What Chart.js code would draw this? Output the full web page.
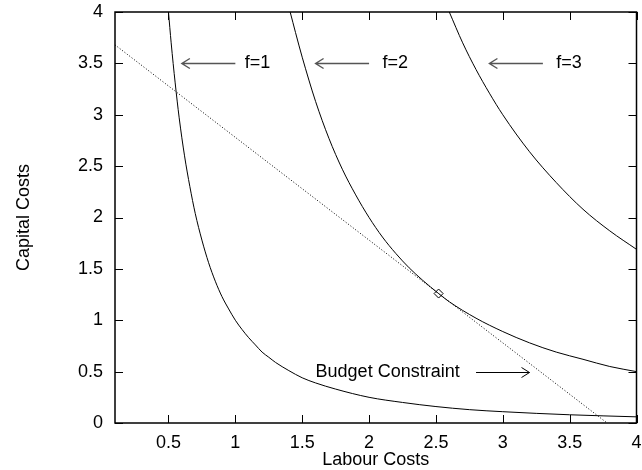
<!DOCTYPE html>
<html>
<head>
<meta charset="utf-8">
<script src="https://cdn.jsdelivr.net/npm/chart.js@4.4.1/dist/chart.umd.min.js"></script>
<style>
  body { margin: 0; background: #fff; }
  #wrap { width: 642px; height: 470px; }
</style>
</head>
<body>
<div id="wrap"><canvas id="chart" width="642" height="470"></canvas></div>
<script>
  // Isoquants (labour cost, capital cost)
  const f1X = [0.5, 0.52, 0.55, 0.58, 0.62, 0.66, 0.7, 0.75, 0.8, 0.85, 0.9, 0.95, 1.0, 1.05, 1.1, 1.15, 1.2, 1.25, 1.3, 1.4, 1.5, 1.6, 1.75, 2.0, 2.25, 2.5, 2.75, 3.0, 3.5, 4.0];
  const f1Y = [4.0, 3.70, 3.31, 2.97, 2.60, 2.30, 2.04, 1.78, 1.56, 1.38, 1.23, 1.11, 1.0, 0.91, 0.83, 0.76, 0.69, 0.64, 0.59, 0.51, 0.44, 0.39, 0.33, 0.25, 0.20, 0.16, 0.13, 0.11, 0.08, 0.06];
  const f2X = [1.41, 1.45, 1.5, 1.6, 1.7, 1.8, 1.9, 2.0, 2.1, 2.2, 2.3, 2.4, 2.52, 2.6, 2.8, 3.0, 3.2, 3.4, 3.6, 3.8, 4.0];
  const f2Y = [4.0, 3.80, 3.56, 3.13, 2.77, 2.47, 2.22, 2.0, 1.81, 1.65, 1.51, 1.39, 1.26, 1.18, 1.02, 0.89, 0.78, 0.69, 0.62, 0.55, 0.5];
  const f3X = [2.6, 2.7, 2.8, 2.9, 3.0, 3.2, 3.4, 3.6, 3.8, 4.0];
  const f3Y = [4.0, 3.70, 3.44, 3.21, 3.0, 2.64, 2.34, 2.08, 1.87, 1.69];

  // Budget constraint line and the tangent point
  const budgetX = [0.1, 3.78];
  const budgetY = [3.68, 0];
  const optimumX = [2.52];
  const optimumY = [1.26];

  // Tick values
  const xTicks = [0.5, 1, 1.5, 2, 2.5, 3, 3.5, 4];
  const yTicks = [0, 0.5, 1, 1.5, 2, 2.5, 3, 3.5, 4];

  // Labels and arrows (data coordinates)
  const noteTexts = ['f=1', 'f=2', 'f=3', 'Budget Constraint'];
  const noteX = [1.07, 2.1, 3.4, 1.6];
  const noteY = [3.5, 3.5, 3.5, 0.5];
  const arrowFromX = [1.0, 2.0, 3.3, 2.8];
  const arrowToX = [0.6, 1.6, 2.9, 3.2];

  const FONT = '"Liberation Sans", Arial, Helvetica, sans-serif';
  Chart.defaults.font.family = FONT;
  Chart.defaults.font.size = 18;
  Chart.defaults.color = '#000';

  const pts = (xs, ys) => xs.map((x, i) => ({ x: x, y: ys[i] }));

  const curve = data => ({
    data: data,
    borderColor: '#000',
    borderWidth: 1,
    pointRadius: 0,
    cubicInterpolationMode: 'monotone',
    fill: false
  });

  // frame, inward ticks, labels and arrows
  const extras = {
    id: 'extras',
    afterDatasetsDraw(chart) {
      const { ctx, chartArea: a, scales: { x, y } } = chart;
      ctx.save();
      ctx.strokeStyle = '#000';
      ctx.lineWidth = 1;
      ctx.beginPath();
      xTicks.forEach(v => {
        const px = Math.round(x.getPixelForValue(v)) + 0.5;
        ctx.moveTo(px, a.bottom); ctx.lineTo(px, a.bottom - 8);
        ctx.moveTo(px, a.top); ctx.lineTo(px, a.top + 8);
      });
      yTicks.forEach(v => {
        const py = Math.round(y.getPixelForValue(v)) + 0.5;
        ctx.moveTo(a.left, py); ctx.lineTo(a.left + 8, py);
        ctx.moveTo(a.right, py); ctx.lineTo(a.right - 8, py);
      });
      ctx.stroke();

      ctx.lineWidth = 1.5;
      ctx.strokeRect(a.left, a.top, a.right - a.left, a.bottom - a.top);

      // notes
      ctx.font = '18px ' + FONT;
      ctx.fillStyle = '#000';
      ctx.textAlign = 'left';
      ctx.textBaseline = 'middle';
      noteTexts.forEach((t, i) => {
        ctx.fillText(t, x.getPixelForValue(noteX[i]), y.getPixelForValue(noteY[i]));
      });

      // arrows
      noteTexts.forEach((t, i) => {
        const x0 = x.getPixelForValue(arrowFromX[i]);
        const x1 = x.getPixelForValue(arrowToX[i]);
        const py = Math.round(y.getPixelForValue(noteY[i])) + 0.5;
        const dir = x1 > x0 ? 1 : -1;
        ctx.strokeStyle = i < 3 ? '#555' : '#000';
        ctx.lineWidth = i < 3 ? 1.4 : 1;
        ctx.beginPath();
        ctx.moveTo(x0, py); ctx.lineTo(x1, py);
        ctx.moveTo(x1 - dir * 8, py - 5); ctx.lineTo(x1, py); ctx.lineTo(x1 - dir * 8, py + 5);
        ctx.stroke();
      });
      ctx.restore();
    }
  };

  new Chart(document.getElementById('chart'), {
    type: 'line',
    data: {
      datasets: [
        curve(pts(f1X, f1Y)),
        curve(pts(f2X, f2Y)),
        curve(pts(f3X, f3Y)),
        {
          data: pts(budgetX, budgetY),
          borderColor: '#000',
          borderWidth: 1,
          borderDash: [1, 2],
          pointRadius: 0,
          tension: 0,
          fill: false
        },
        {
          data: pts(optimumX, optimumY),
          showLine: false,
          pointStyle: 'rectRot',
          pointRadius: 4.5,
          borderWidth: 1,
          pointBorderColor: '#000',
          pointBackgroundColor: '#fff'
        }
      ]
    },
    options: {
      responsive: false,
      animation: false,
      layout: { padding: { top: 12, right: 2, left: 0, bottom: 0 } },
      plugins: {
        legend: { display: false },
        tooltip: { enabled: false }
      },
      scales: {
        x: {
          type: 'linear',
          min: 0.1,
          max: 4,
          grid: { display: false, drawTicks: false },
          border: { display: false },
          afterBuildTicks: s => { s.ticks = xTicks.map(v => ({ value: v })); },
          afterFit: s => { s.height = 47; s.paddingLeft = 0; s.paddingRight = 0; },
          ticks: { padding: 9, maxRotation: 0, autoSkip: false, callback: v => String(v) },
          title: { display: true, text: 'Labour Costs', padding: { top: 0, bottom: -1 } }
        },
        y: {
          type: 'linear',
          min: 0,
          max: 4,
          grid: { display: false, drawTicks: false },
          border: { display: false },
          afterBuildTicks: s => { s.ticks = yTicks.map(v => ({ value: v })); },
          afterFit: s => { s.width = 115; s.paddingTop = 0; s.paddingBottom = 0; },
          ticks: { padding: 12, autoSkip: false, callback: v => String(v) },
          title: { display: true, text: 'Capital Costs', padding: { top: 13, bottom: 0 } }
        }
      }
    },
    plugins: [extras]
  });
</script>
</body>
</html>
